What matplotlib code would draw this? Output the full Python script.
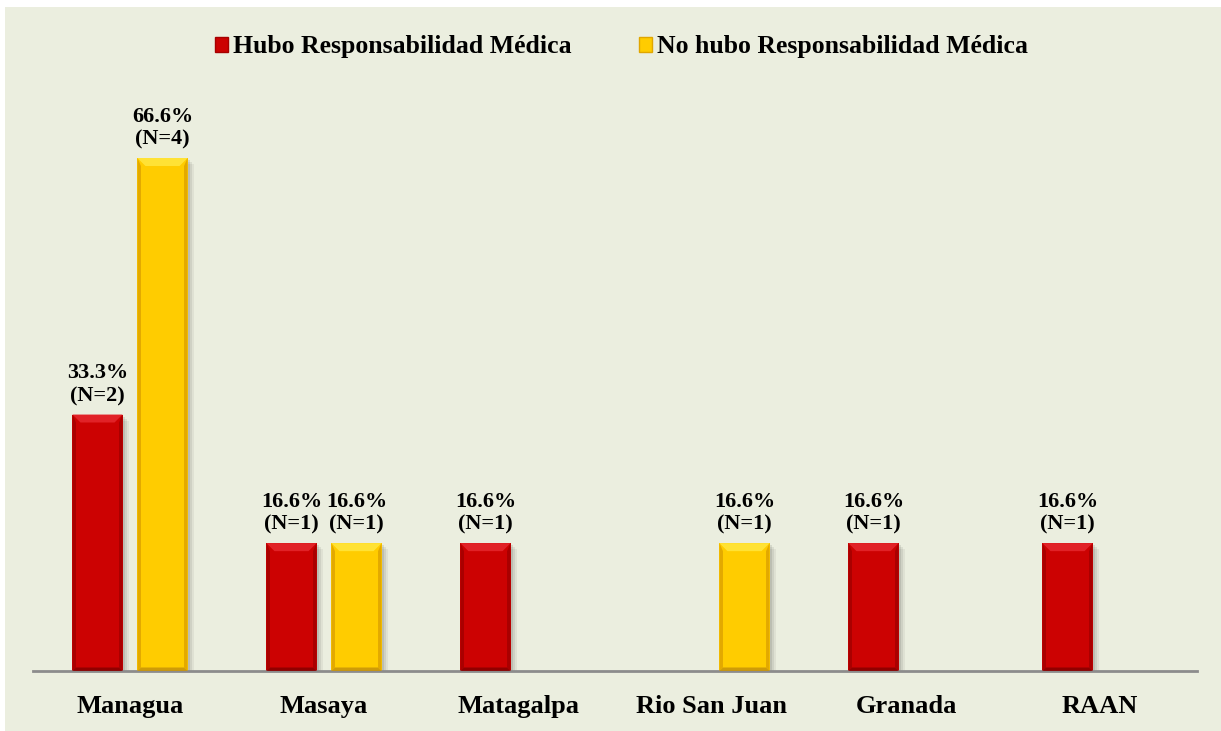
import numpy as np
import matplotlib
matplotlib.use("Agg")
from matplotlib import pyplot as plt
from matplotlib.patches import Rectangle, Polygon

# data
categories = ["Managua", "Masaya", "Matagalpa", "Rio San Juan", "Granada", "RAAN"]
hubo_pct = [33.3, 16.6, 16.6, np.nan, 16.6, 16.6]
hubo_n = [2, 1, 1, 0, 1, 1]
no_hubo_pct = [66.6, 16.6, np.nan, 16.6, np.nan, np.nan]
no_hubo_n = [4, 1, 0, 1, 0, 0]
series_names = ["Hubo Responsabilidad Médica", "No hubo Responsabilidad Médica"]

plt.rcParams['font.family'] = ['Liberation Serif', 'DejaVu Serif']
plt.rcParams['font.weight'] = 'bold'

W, H = 1221, 731
fig = plt.figure(figsize=(W / 100, H / 100), dpi=100)
fig.patch.set_facecolor('white')
bg = '#EBEEDF'
fig.patches.append(Rectangle((5 / W, 0), 1 - 5 / W, 1 - 7 / H, transform=fig.transFigure,
                             facecolor=bg, edgecolor='none', zorder=-10))

ax_left, ax_right = 33, 1197
ax_bot, ax_top = 671, 100
ax = fig.add_axes([ax_left / W, (H - ax_bot) / H, (ax_right - ax_left) / W, (ax_bot - ax_top) / H])
ax.set_facecolor('none')
ymax = 66.6 * (ax_bot - ax_top) / 513
ax.set_xlim(-0.5, len(categories) - 0.5)
ax.set_ylim(0, ymax)

px_x = len(categories) / (ax_right - ax_left)
px_y = ymax / (ax_bot - ax_top)

x = np.arange(len(categories))
w = 0.258
off = 0.1675

styles = [
    dict(base='#CC0202', top='#E4262C', side='#A60000', bottom='#8A0000'),
    dict(base='#FFCC00', top='#FFE53C', side='#E0A600', bottom='#C9960A'),
]


def bevel(bar, st):
    x0, y0 = bar.get_x(), bar.get_y()
    x1, y1 = x0 + bar.get_width(), y0 + bar.get_height()
    dx, dy = 8 * px_x, 8 * px_y
    sx, sy = 3.5 * px_x, 3.5 * px_y
    # soft shadow
    for k, a in [(6, 0.05), (4, 0.07), (2, 0.09)]:
        ax.add_patch(Rectangle((x0 + k * px_x, y0), bar.get_width(), bar.get_height() - k * px_y,
                               facecolor='black', alpha=a, edgecolor='none', zorder=1))
    pts = [
        ([(x0, y1), (x1, y1), (x1 - dx, y1 - dy), (x0 + dx, y1 - dy)], st['top']),
        ([(x0, y0), (x0 + sx, y0 + sy), (x0 + sx, y1 - dy), (x0, y1)], st['side']),
        ([(x1, y0), (x1 - sx, y0 + sy), (x1 - sx, y1 - dy), (x1, y1)], st['side']),
        ([(x0, y0), (x1, y0), (x1 - sx, y0 + sy), (x0 + sx, y0 + sy)], st['bottom']),
    ]
    for p, c in pts:
        ax.add_patch(Polygon(p, closed=True, facecolor=c, edgecolor='none', alpha=0.9, zorder=3))


for vals, ns, sign, st in [(hubo_pct, hubo_n, -1, styles[0]), (no_hubo_pct, no_hubo_n, 1, styles[1])]:
    bars = ax.bar(x + sign * off, vals, w, color=st['base'], zorder=2)
    for b, v, n in zip(bars, vals, ns):
        if np.isnan(v):
            continue
        bevel(b, st)
        ax.annotate(f"{v}%\n(N={n})", (b.get_x() + b.get_width() / 2, v), xytext=(0, 6),
                    textcoords='offset points', ha='center', va='bottom', fontsize=16,
                    fontweight='bold', linespacing=1.2, zorder=5)

for s in ['top', 'left', 'right']:
    ax.spines[s].set_visible(False)
ax.spines['bottom'].set_color('#8C8C8C')
ax.spines['bottom'].set_linewidth(2)
ax.set_yticks([])
ax.set_xticks(x)
ax.set_xticklabels(categories, fontsize=19, fontweight='bold')
ax.tick_params(axis='x', length=0, pad=17)

handles = [Rectangle((0, 0), 1, 1, facecolor=styles[0]['base'], edgecolor=styles[0]['side']),
           Rectangle((0, 0), 1, 1, facecolor=styles[1]['base'], edgecolor=styles[1]['side'])]
fig.legend(handles, series_names, loc='center', bbox_to_anchor=(0.509, 1 - 47 / H), ncol=2,
           frameon=False, prop={'size': 18.5, 'weight': 'bold'}, handlelength=0.5,
           handleheight=0.5, handletextpad=0.2, columnspacing=2.6)

fig.savefig('out.png', dpi=100, facecolor='white')
